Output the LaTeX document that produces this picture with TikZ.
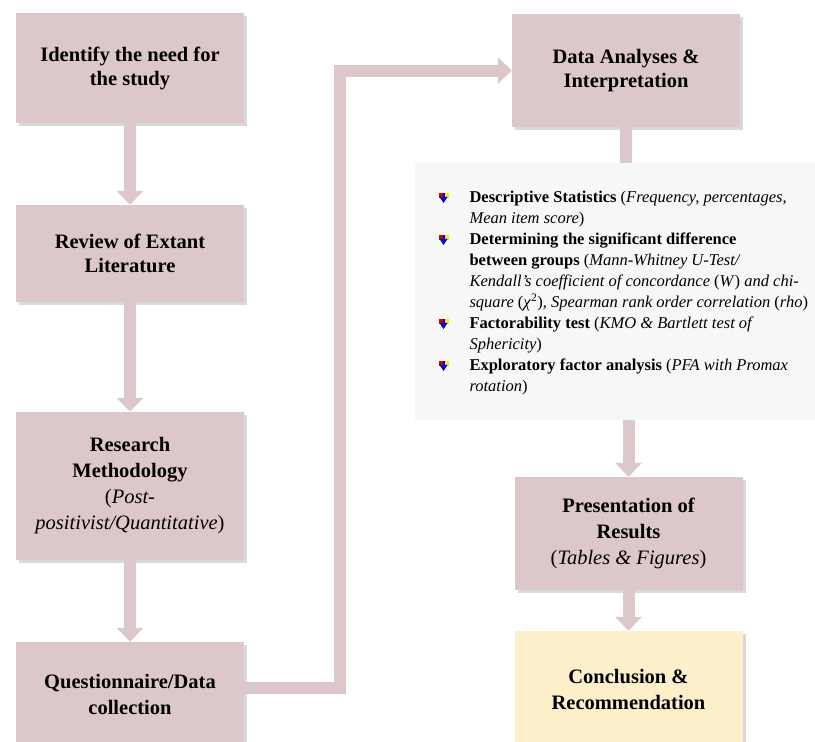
\documentclass[tikz,border=0pt]{standalone}
\usepackage{fontspec}
\setmainfont{Liberation Serif}
\usetikzlibrary{arrows.meta,shadows}

\definecolor{boxpink}{RGB}{220,199,202}
\definecolor{boxcream}{RGB}{253,239,202}
\definecolor{listgray}{RGB}{247,247,247}

% small coloured bullet of the method list
\newcommand{\listmark}{\tikz[x=1pt,y=1pt,baseline=0pt]{
  \fill[red!85!black] (0,5) rectangle (5,10);
  \fill[yellow!90!orange] (5,5) rectangle (10,10);
  \fill[blue!80!black] (4,6) rectangle (6,10);
  \fill[blue!80!black] (1,6) -- (9,6) -- (5,0) -- cycle;}}
\newcommand{\listgap}{\hspace*{31pt}}

\tikzset{
  stage/.style={fill=boxpink, minimum width=228pt, align=center,
    font=\bfseries\fontsize{20.5}{24}\selectfont,
    drop shadow={opacity=0.3, shadow xshift=3pt, shadow yshift=-3pt}},
  flow/.style={draw=boxpink, line width=12pt, -{Triangle[width=26pt,length=14pt]}},
  link/.style={draw=boxpink, line width=12pt},
}

\begin{document}
\begin{tikzpicture}[x=1pt,y=-1pt]
  \useasboundingbox (0,0) rectangle (815,742);

  % left column
  \node[stage, minimum height=110pt] (need) at (130,68) {Identify the need for\\the study};
  \node[stage, minimum height=97pt] (review) at (130,253.5) {Review of Extant\\Literature};
  \node[stage, minimum height=148pt, font=\bfseries\fontsize{20.5}{26}\selectfont] (method) at (130,486)
    {Research\\Methodology\\{\mdseries(\textit{Post-}}\\{\mdseries\textit{positivist/Quantitative})}};
  \node[stage, minimum height=105pt, font=\bfseries\fontsize{20.5}{26}\selectfont] (collect) at (130,694.5)
    {Questionnaire/Data\\collection};

  % right column
  \node[stage, minimum height=113pt] (data) at (626,70.5) {Data Analyses \&\\Interpretation};
  \node[fill=listgray, minimum width=403pt, minimum height=257pt] (listbox) at (616.5,291.5) {};
  \node[anchor=west, align=left, font=\fontsize{16.5}{21}\selectfont] (items) at (435,293.5)
    {\makebox[31pt][l]{\listmark}\textbf{Descriptive Statistics} (\textit{Frequency, percentages,}\\
     \listgap\textit{Mean item score})\\
     \makebox[31pt][l]{\listmark}\textbf{Determining the significant difference}\\
     \listgap\textbf{between groups} (\textit{Mann-Whitney U-Test/}\\
     \listgap\textit{Kendall’s coefficient of concordance} (\textit{W}) \textit{and chi-}\\
     \listgap\textit{square} (\textit{χ}\textsuperscript{2})\textit{, Spearman rank order correlation} (\textit{rho})\\
     \makebox[31pt][l]{\listmark}\textbf{Factorability test} (\textit{KMO \& Bartlett test of}\\
     \listgap\textit{Sphericity})\\
     \makebox[31pt][l]{\listmark}\textbf{Exploratory factor analysis} (\textit{PFA with Promax}\\
     \listgap\textit{rotation})};
  \node[stage, minimum height=113pt, font=\bfseries\fontsize{20.5}{26}\selectfont] (present) at (628.5,533.5)
    {Presentation of\\Results\\{\mdseries(\textit{Tables \& Figures})}};
  \node[stage, fill=boxcream, minimum height=116pt, font=\bfseries\fontsize{20.5}{26}\selectfont] (conclude) at (628.5,689)
    {Conclusion \&\\Recommendation};

  % connectors
  \coordinate (turn) at (340,400);
  \draw[flow] (need.south) -- (review.north);
  \draw[flow] (review.south) -- (method.north);
  \draw[flow] (method.south) -- (collect.north);
  \draw[flow] ([yshift=7pt]collect.east) -| (turn) |- (data.west);
  \draw[link] (data.south) -- (data.south |- listbox.north);
  \draw[flow] (listbox.south -| present.north) -- (present.north);
  \draw[flow] (present.south) -- (conclude.north);
\end{tikzpicture}
\end{document}
